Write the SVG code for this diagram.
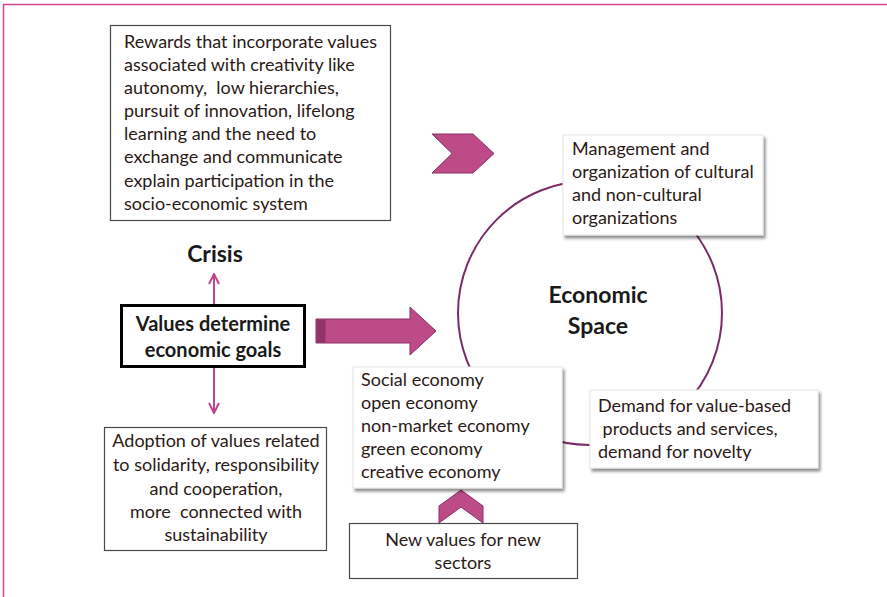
<svg xmlns="http://www.w3.org/2000/svg" width="887" height="597" viewBox="0 0 887 597">
<defs>
<style>
text{white-space:pre}
.t{font-family:"Lato","Liberation Sans",sans-serif;font-size:18px;fill:#2b1a16}
.b{font-family:"Lato","Liberation Sans",sans-serif;font-weight:bold;fill:#1a1a1a}
.c{text-anchor:middle}
.box{fill:#fff;stroke:#4a4a4a;stroke-width:1.2}
.sh{fill:#fff;stroke:#e6e6e6;stroke-width:1}
.pk{fill:#bd4b88;stroke:#8c2f64;stroke-width:1}
.thin{stroke:#c0468c;stroke-width:2;fill:none}
</style>
<filter id="ds" x="-10%" y="-10%" width="125%" height="130%">
<feDropShadow dx="2" dy="3" stdDeviation="1.6" flood-color="#000" flood-opacity="0.45"/>
</filter>
<marker id="ah" viewBox="0 0 12 12" refX="11" refY="6" markerWidth="12" markerHeight="12" markerUnits="userSpaceOnUse" orient="auto">
<path d="M1,1 L11,6 L1,11" fill="none" stroke="#c0468c" stroke-width="2"/>
</marker>
</defs>
<rect width="887" height="597" fill="#fff"/>
<path d="M3.5,597 L3.5,4.5 L887,4.5" fill="none" stroke="#d0458f" stroke-width="1.5"/>

<g id="connectors">
<circle cx="590" cy="313" r="132" fill="none" stroke="#7b2c68" stroke-width="2"/>
<line class="thin" x1="214" y1="305" x2="214" y2="274" marker-end="url(#ah)"/>
<line class="thin" x1="214" y1="367" x2="214" y2="413" marker-end="url(#ah)"/>
<polygon class="pk" points="316,319 410,319 410,307 436,331 410,355 410,343 316,343"/>
<rect x="316.5" y="319.5" width="9" height="23" fill="#92336a"/>
<polygon class="pk" points="432,134 473,134 494,153.5 473,173 432,173 452,153.5"/>
<polygon class="pk" points="439,523 439,506 461,490 483,506 483,523 461,507"/>
</g>

<g id="rewards">
<rect class="box" x="110.5" y="25.5" width="280" height="195"/>
<text class="t"><tspan x="124" y="48">Rewards that incorporate values</tspan><tspan x="124" y="71">associated with creativity like</tspan><tspan x="124" y="94">autonomy,  low hierarchies,</tspan><tspan x="124" y="117">pursuit of innovation, lifelong</tspan><tspan x="124" y="140">learning and the need to</tspan><tspan x="124" y="163">exchange and communicate</tspan><tspan x="124" y="187">explain participation in the</tspan><tspan x="124" y="210">socio-economic system</tspan></text>
</g>

<g id="crisis">
<text class="b c" x="215" y="262" font-size="23">Crisis</text>
</g>

<g id="values">
<rect x="121.5" y="305.5" width="183" height="61" fill="#fff" stroke="#000" stroke-width="3"/>
<text class="b c" font-size="20"><tspan x="213" y="331">Values determine</tspan><tspan x="213" y="357">economic goals</tspan></text>
</g>

<g id="adoption">
<rect class="box" x="104.5" y="427.5" width="222" height="123"/>
<text class="t c"><tspan x="216" y="447">Adoption of values related</tspan><tspan x="216" y="471">to solidarity, responsibility</tspan><tspan x="216" y="495">and cooperation,</tspan><tspan x="216" y="518">more  connected with</tspan><tspan x="216" y="541">sustainability</tspan></text>
</g>

<g id="management">
<rect class="sh" x="563" y="135" width="200" height="100" filter="url(#ds)"/>
<text class="t"><tspan x="572" y="155">Management and</tspan><tspan x="572" y="178">organization of cultural</tspan><tspan x="572" y="201">and non-cultural</tspan><tspan x="572" y="224">organizations</tspan></text>
</g>

<g id="economic-space">
<text class="b c" font-size="23"><tspan x="598" y="303">Economic</tspan><tspan x="598" y="334">Space</tspan></text>
</g>

<g id="social">
<rect class="sh" x="353" y="367" width="209" height="121" filter="url(#ds)"/>
<text class="t"><tspan x="361" y="386">Social economy</tspan><tspan x="361" y="409">open economy</tspan><tspan x="361" y="432">non-market economy</tspan><tspan x="361" y="455">green economy</tspan><tspan x="361" y="478">creative economy</tspan></text>
</g>

<g id="demand">
<rect class="sh" x="590" y="390" width="228" height="78" filter="url(#ds)"/>
<text class="t"><tspan x="598" y="412">Demand for value-based</tspan><tspan x="598" y="435"> products and services,</tspan><tspan x="598" y="458">demand for novelty</tspan></text>
</g>

<g id="new-values">
<rect class="box" x="349.5" y="523.5" width="228" height="55"/>
<text class="t c"><tspan x="463" y="546">New values for new</tspan><tspan x="463" y="569">sectors</tspan></text>
</g>
</svg>
